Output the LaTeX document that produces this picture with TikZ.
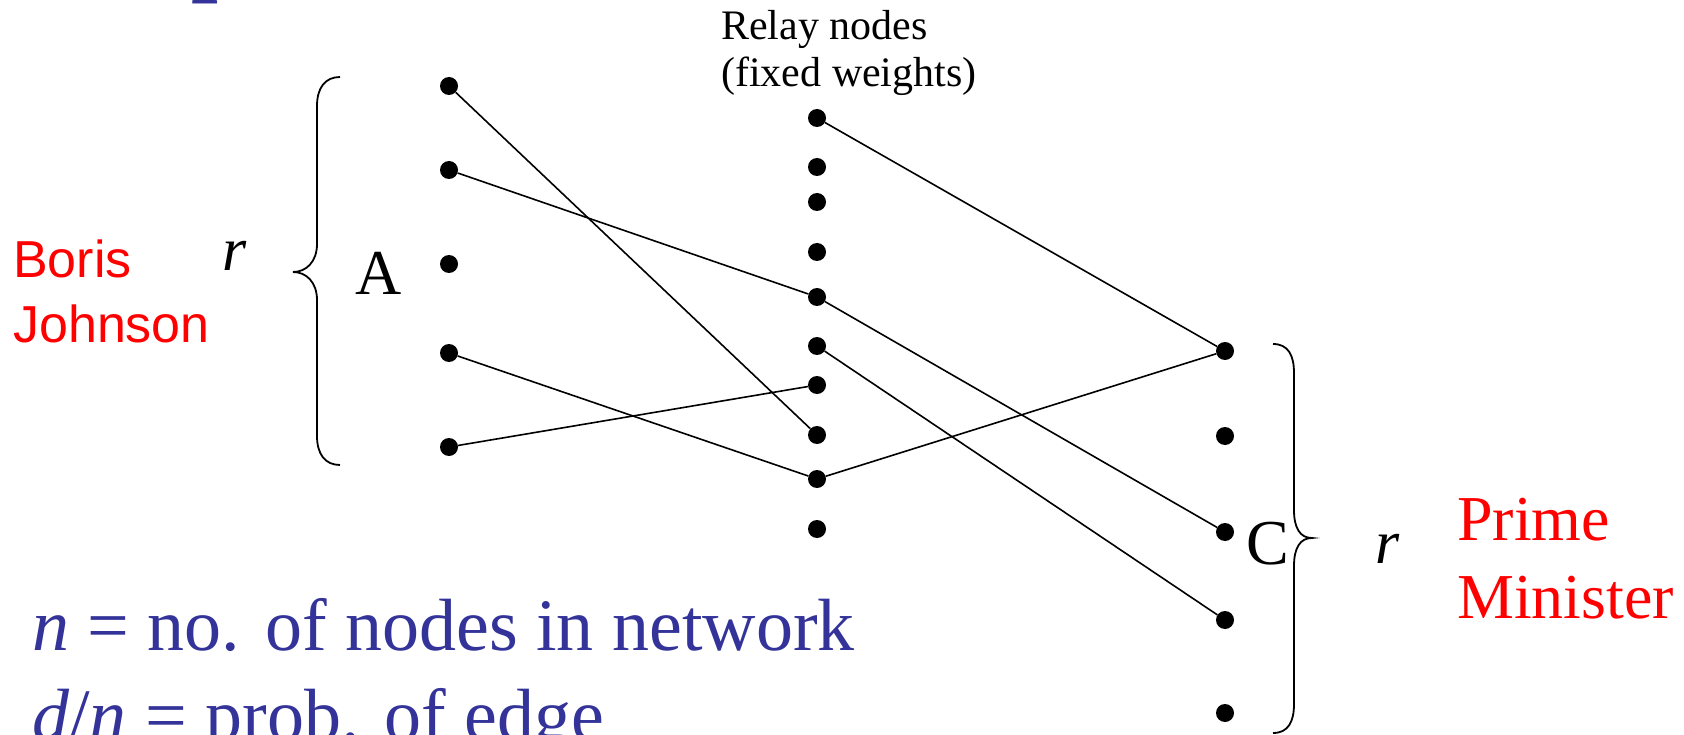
\documentclass[tikz,border=0pt]{standalone}
\usepackage{fontspec}
\setmainfont{Liberation Serif}
\newfontfamily\arialfont{Liberation Sans}
\definecolor{pptblue}{RGB}{51,51,153}
\definecolor{pptred}{RGB}{255,0,0}
\tikzset{
  dot/.style={circle,fill=black,inner sep=0pt,minimum size=18pt},
  edge/.style={line width=1.6pt},
  brace/.style={line width=1.8pt},
  lbl/.style={inner sep=0pt,anchor=base west},
  midlbl/.style={inner sep=0pt,anchor=base},
}
\begin{document}
\begin{tikzpicture}[x=1pt,y=-1pt]
\useasboundingbox (0,0) rectangle (1684,735);
\begin{scope}
\clip (0,0) rectangle (1684,735);
% title fragment
\node[lbl,text=pptblue,font=\bfseries\fontsize{96}{110}\selectfont] (title) at (191,-16) {p};
% bottom text
\node[lbl,text=pptblue,font=\fontsize{74}{89}\selectfont] (def1) at (32,650) {\textit{n} = no. of nodes in network};
\node[lbl,text=pptblue,font=\fontsize{74}{89}\selectfont] (def2) at (32,740) {\textit{d}/\textit{n} = prob. of edge};
\end{scope}

% left group
\node[lbl,text=pptred,font=\arialfont\fontsize{52}{62}\selectfont] (boris) at (13,278) {Boris};
\node[lbl,text=pptred,font=\arialfont\fontsize{52}{62}\selectfont] (johnson) at (13,342) {Johnson};
\node[midlbl,font=\itshape\fontsize{62}{74}\selectfont] (rl) at (235,271) {r};
\draw[brace] (340,77) .. controls (325,77) and (317,88) .. (317,106) -- (317,244)
  .. controls (317,262) and (306,272) .. (293,272)
  .. controls (306,272) and (317,282) .. (317,300) -- (317,436)
  .. controls (317,454) and (325,465) .. (340,465);
\node[midlbl,font=\fontsize{64}{76}\selectfont] (A) at (379,295) {A};

\node[dot] (L1) at (449,86) {};
\node[dot] (L2) at (449,170) {};
\node[dot] (L3) at (449,264) {};
\node[dot] (L4) at (449,353) {};
\node[dot] (L5) at (449,447) {};

% relay nodes
\node[lbl,font=\fontsize{42}{50}\selectfont] (relay1) at (721,40) {Relay nodes};
\node[lbl,font=\fontsize{42}{50}\selectfont] (relay2) at (721,87) {(fixed weights)};
\node[dot] (M1) at (817,118) {};
\node[dot] (M2) at (817,167) {};
\node[dot] (M3) at (817,202) {};
\node[dot] (M4) at (817,252) {};
\node[dot] (M5) at (817,297) {};
\node[dot] (M6) at (817,346) {};
\node[dot] (M7) at (817,385) {};
\node[dot] (M8) at (817,435) {};
\node[dot] (M9) at (817,479) {};
\node[dot] (M10) at (817,529) {};

% right group
\node[dot] (R1) at (1225,351) {};
\node[dot] (R2) at (1225,436) {};
\node[dot] (R3) at (1225,532) {};
\node[dot] (R4) at (1225,620) {};
\node[dot] (R5) at (1225,713) {};
\node[midlbl,font=\fontsize{64}{76}\selectfont] (C) at (1268,564) {C};
\draw[brace] (1273,344) .. controls (1288,344) and (1294,355) .. (1294,373) -- (1294,510)
  .. controls (1294,528) and (1300,538) .. (1312,538)
  .. controls (1300,538) and (1294,548) .. (1294,566) -- (1294,704)
  .. controls (1294,722) and (1288,733) .. (1273,733);
\node[midlbl,font=\itshape\fontsize{62}{74}\selectfont] (rr) at (1388,563) {r};
\node[lbl,text=pptred,font=\fontsize{64}{76}\selectfont] (prime) at (1457,540) {Prime};
\node[lbl,text=pptred,font=\fontsize{64}{76}\selectfont] (minister) at (1457,618) {Minister};

% edges
\draw[edge] (L1) -- (M8);
\draw[edge] (L2) -- (M5);
\draw[edge] (M5) -- (R3);
\draw[edge] (L4) -- (M9);
\draw[edge] (L5) -- (M7);
\draw[edge] (M1) -- (R1);
\draw[edge] (M6) -- (R4);
\draw[edge] (M9) -- (R1);
\end{tikzpicture}
\end{document}
